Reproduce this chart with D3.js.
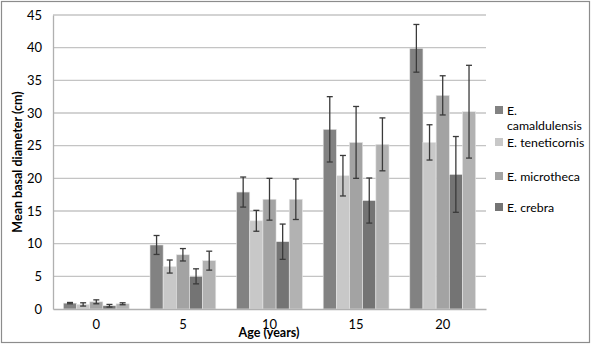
<!DOCTYPE html>
<html>
<head>
<meta charset="utf-8">
<script src="https://cdn.jsdelivr.net/npm/d3@7"></script>
<style>
  body { margin: 0; background: #fff; }
  svg text { font-family: Lato, "Open Sans", sans-serif; fill: #000; }
</style>
</head>
<body>
<svg width="592" height="345"></svg>
<script>
// ages on the x axis
var ages = ["0", "5", "10", "15", "20"];
// species (fifth series has no legend entry in the original)
var species = ["E. camaldulensis", "E. teneticornis", "E. microtheca", "E. crebra", ""];
var colors = ["#828282", "#c8c8c8", "#a3a3a3", "#747474", "#b2b2b2"];

// mean basal diameter (cm), one array per species, in age order
var camaldulensis = [0.9, 9.8, 17.9, 27.5, 39.9];
var teneticornis  = [0.7, 6.5, 13.5, 20.4, 25.5];
var microtheca    = [1.1, 8.3, 16.8, 25.5, 32.7];
var crebra        = [0.5, 5.0, 10.3, 16.6, 20.6];
var fifth         = [0.8, 7.4, 16.8, 25.2, 30.2];

// error bar half-widths
var errCamaldulensis = [0.1, 1.45, 2.3, 5.0, 3.65];
var errTeneticornis  = [0.25, 1.0, 1.6, 3.1, 2.7];
var errMicrotheca    = [0.3, 0.95, 3.2, 5.5, 3.0];
var errCrebra        = [0.2, 1.15, 2.7, 3.45, 5.8];
var errFifth         = [0.15, 1.45, 3.1, 4.05, 7.1];

var yTicks = [0, 5, 10, 15, 20, 25, 30, 35, 40, 45];

var means = [camaldulensis, teneticornis, microtheca, crebra, fifth];
var errs = [errCamaldulensis, errTeneticornis, errMicrotheca, errCrebra, errFifth];

var svg = d3.select("svg");

// outer frame
svg.append("rect")
    .attr("x", 1.5).attr("y", 1.5)
    .attr("width", 588).attr("height", 341)
    .attr("fill", "none")
    .attr("stroke", "#8c8c8c")
    .attr("stroke-width", 1.2);

var plotLeft = 53, plotRight = 486, plotTop = 15, plotBottom = 309;

var x0 = d3.scaleBand().domain(ages).range([plotLeft, plotRight])
    .paddingInner(0.24).paddingOuter(0.12);
var x1 = d3.scaleBand().domain(d3.range(species.length))
    .range([0, x0.bandwidth()]);
var y = d3.scaleLinear().domain([0, 45]).range([plotBottom, plotTop]);

// gridlines
svg.append("g")
    .selectAll("line")
    .data(yTicks.slice(1))
  .enter().append("line")
    .attr("x1", plotLeft).attr("x2", plotRight)
    .attr("y1", function(d) { return y(d); })
    .attr("y2", function(d) { return y(d); })
    .attr("stroke", "#c4c4c4")
    .attr("stroke-width", 1.3);

// y axis
var yAxis = svg.append("g")
    .attr("transform", "translate(" + plotLeft + ",0)")
    .call(d3.axisLeft(y).tickValues(yTicks).tickSize(0).tickPadding(11));
yAxis.select(".domain").attr("stroke", "#b0b0b0").attr("stroke-width", 1.3);
yAxis.selectAll("text").attr("font-size", "13px");

// bars
var rows = [];
ages.forEach(function(a, i) {
    species.forEach(function(s, j) {
        rows.push({age: a, s: j, v: means[j][i], e: errs[j][i]});
    });
});

var bar = svg.append("g").selectAll("g")
    .data(rows)
  .enter().append("g");

bar.append("rect")
    .attr("x", function(d) { return x0(d.age) + x1(d.s); })
    .attr("y", function(d) { return y(d.v); })
    .attr("width", x1.bandwidth())
    .attr("height", function(d) { return y(0) - y(d.v); })
    .attr("fill", function(d) { return colors[d.s]; })
    .attr("stroke", "#e6e6e6")
    .attr("stroke-width", 0.6);

// error bars
var cap = 3;
function cx(d) { return x0(d.age) + x1(d.s) + x1.bandwidth() / 2; }
bar.append("line")
    .attr("x1", cx).attr("x2", cx)
    .attr("y1", function(d) { return y(d.v + d.e); })
    .attr("y2", function(d) { return y(d.v - d.e); })
    .attr("stroke", "#3a3a3a").attr("stroke-width", 1.3);
bar.append("line")
    .attr("x1", function(d) { return cx(d) - cap; })
    .attr("x2", function(d) { return cx(d) + cap; })
    .attr("y1", function(d) { return y(d.v + d.e); })
    .attr("y2", function(d) { return y(d.v + d.e); })
    .attr("stroke", "#3a3a3a").attr("stroke-width", 1.3);
bar.append("line")
    .attr("x1", function(d) { return cx(d) - cap; })
    .attr("x2", function(d) { return cx(d) + cap; })
    .attr("y1", function(d) { return y(d.v - d.e); })
    .attr("y2", function(d) { return y(d.v - d.e); })
    .attr("stroke", "#3a3a3a").attr("stroke-width", 1.3);

// x axis baseline
var xAxis = svg.append("g")
    .attr("transform", "translate(0," + plotBottom + ")")
    .call(d3.axisBottom(x0).tickSize(0).tickPadding(11));
xAxis.select(".domain").attr("stroke", "#b0b0b0").attr("stroke-width", 1.3);
xAxis.selectAll("text").attr("font-size", "13px");

// axis titles
svg.append("text")
    .attr("transform", "translate(22," + (plotTop + plotBottom) / 2 + ") rotate(-90)")
    .attr("text-anchor", "middle")
    .attr("font-size", "12.5px")
    .attr("font-weight", "bold")
    .text("Mean basal diameter (cm)");

svg.append("text")
    .attr("x", 269).attr("y", 337)
    .attr("text-anchor", "middle")
    .attr("font-size", "12.5px")
    .attr("font-weight", "bold")
    .text("Age (years)");

// legend (first four species only)
var legendRows = [
    {s: 0, lines: ["E.", "camaldulensis"], y: 114},
    {s: 1, lines: ["E. teneticornis"], y: 146},
    {s: 2, lines: ["E. microtheca"], y: 180},
    {s: 3, lines: ["E. crebra"], y: 211}
];
var lg = svg.append("g").selectAll("g")
    .data(legendRows)
  .enter().append("g");
lg.append("rect")
    .attr("x", 495).attr("y", function(d) { return d.y - 8; })
    .attr("width", 8).attr("height", 8)
    .attr("fill", function(d) { return colors[d.s]; });
lg.append("text")
    .attr("x", 507).attr("y", function(d) { return d.y + 1; })
    .attr("font-size", "12.3px")
    .selectAll("tspan")
    .data(function(d) { return d.lines; })
  .enter().append("tspan")
    .attr("x", 507)
    .attr("dy", function(d, i) { return i === 0 ? 0 : 15; })
    .text(function(d) { return d; });
</script>
</body>
</html>
